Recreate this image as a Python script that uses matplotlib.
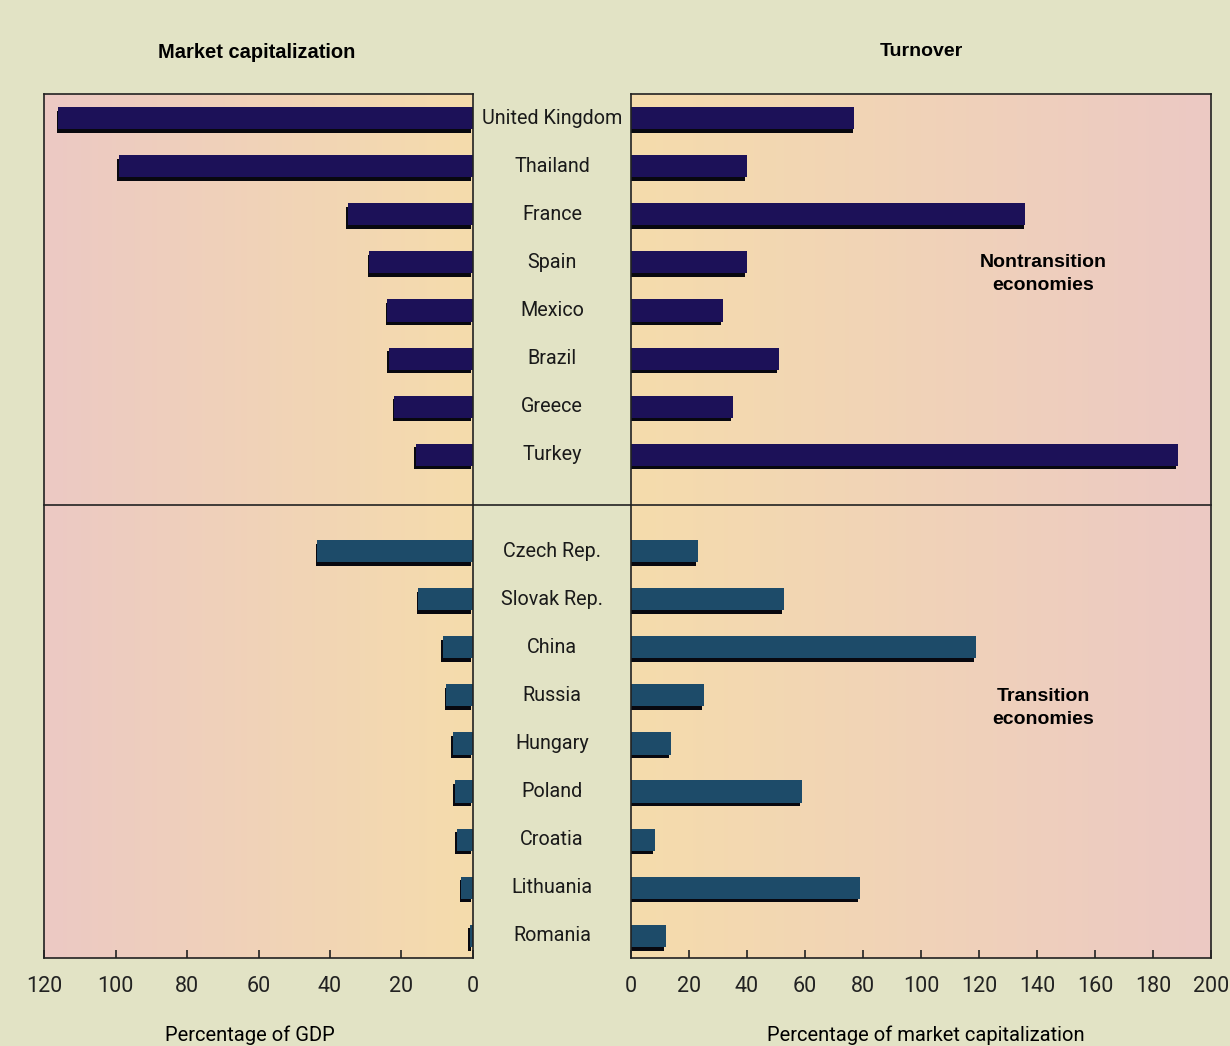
import matplotlib.pyplot as plt
import matplotlib.patheffects as pe
from matplotlib import font_manager
import numpy as np

# data
countries = ['United Kingdom', 'Thailand', 'France', 'Spain', 'Mexico', 'Brazil', 'Greece', 'Turkey',
             'Czech Rep.', 'Slovak Rep.', 'China', 'Russia', 'Hungary', 'Poland', 'Croatia', 'Lithuania', 'Romania']
is_transition = [False] * 8 + [True] * 9
market_cap = [116, 99, 35, 29, 24, 23.5, 22, 16,
              43.5, 15.3, 8.4, 7.5, 5.6, 5, 4.5, 3.3, 0.8]  # % of GDP
turnover = [77, 40, 136, 40, 31.7, 51, 35, 188.5,
            23, 52.7, 119, 25, 13.8, 59, 8.3, 79, 12]  # % of market cap

names = {f.name for f in font_manager.fontManager.ttflist}
fam = 'Liberation Sans Narrow' if 'Liberation Sans Narrow' in names else 'Roboto'
plt.rcParams['font.family'] = [fam, 'DejaVu Sans']
bold_fam = ['Liberation Sans', 'DejaVu Sans']

# layout
W, H = 1230, 1046
ypos = np.array([i if i < 8 else i + 1 for i in range(len(countries))])
ylim = (17.46, -0.5)
c_non = '#1c1158'
c_tr = '#1d4b69'
colors = [c_tr if t else c_non for t in is_transition]
shadow = [pe.SimplePatchShadow(offset=(-1.2, -2.6), shadow_rgbFace='#08080f', alpha=1.0), pe.Normal()]

fig = plt.figure(figsize=(W / 100, H / 100), dpi=100)
fig.patch.set_facecolor('#e2e3c5')

pink = np.array([236, 201, 196]) / 255
yellow = np.array([245, 220, 172]) / 255


def gradient(ax, left_col, right_col):
    t = np.linspace(0, 1, 256)[None, :, None]
    img = left_col[None, None, :] * (1 - t) + right_col[None, None, :] * t
    ax.imshow(img, extent=[0, 1, 0, 1], transform=ax.transAxes, aspect='auto', zorder=0)


def frame(ax):
    for s in ax.spines.values():
        s.set_linewidth(1.2)
        s.set_color('#222222')
    ax.set_yticks([])
    ax.tick_params(axis='x', direction='in', length=6, width=1.2, pad=13, labelsize=15.5,
                   top=False, colors='#222222')
    ax.axhline(8.05, color='#222222', lw=1.2, clip_on=False)


axL = fig.add_axes([44 / W, 1 - 958 / H, 429 / W, 864 / H])
axR = fig.add_axes([631 / W, 1 - 958 / H, 580 / W, 864 / H])
axM = fig.add_axes([473 / W, 1 - 958 / H, 158 / W, 864 / H])

gradient(axL, pink, yellow)
gradient(axR, yellow, pink)

axL.barh(ypos, market_cap, height=0.46, color=colors, path_effects=shadow, zorder=2)
axL.set_xlim(120, 0)
axL.set_ylim(*ylim)
axL.set_xticks(np.arange(0, 121, 20))
frame(axL)

axR.barh(ypos, turnover, height=0.46, color=colors, path_effects=shadow, zorder=2)
axR.set_xlim(0, 200)
axR.set_ylim(*ylim)
axR.set_xticks(np.arange(0, 201, 20))
frame(axR)

# middle column with country names
axM.set_xlim(0, 1)
axM.set_ylim(*ylim)
axM.axis('off')
axM.axhline(8.05, color='#222222', lw=1.2)
for y, name in zip(ypos, countries):
    axM.text(0.5, y, name, ha='center', va='center', fontsize=14.2, color='#1a1a1a')

# titles and notes
fig.text(257 / W, 1 - 52 / H, 'Market capitalization', ha='center', va='center',
         fontsize=14.5, fontweight='bold', family=bold_fam)
fig.text(921 / W, 1 - 52 / H, 'Turnover', ha='center', va='center',
         fontsize=14, fontweight='bold', family=bold_fam)
fig.text(1043 / W, 1 - 274 / H, 'Nontransition\neconomies', ha='center', va='center',
         fontsize=14, fontweight='bold', linespacing=1.5, family=bold_fam)
fig.text(1043 / W, 1 - 708 / H, 'Transition\neconomies', ha='center', va='center',
         fontsize=14, fontweight='bold', linespacing=1.5, family=bold_fam)
fig.text(250 / W, 1 - 1035 / H, 'Percentage of GDP', ha='center', va='center', fontsize=14.5)
fig.text(926 / W, 1 - 1035 / H, 'Percentage of market capitalization', ha='center', va='center', fontsize=14.5)

fig.savefig('out.png', dpi=100, facecolor=fig.get_facecolor())
